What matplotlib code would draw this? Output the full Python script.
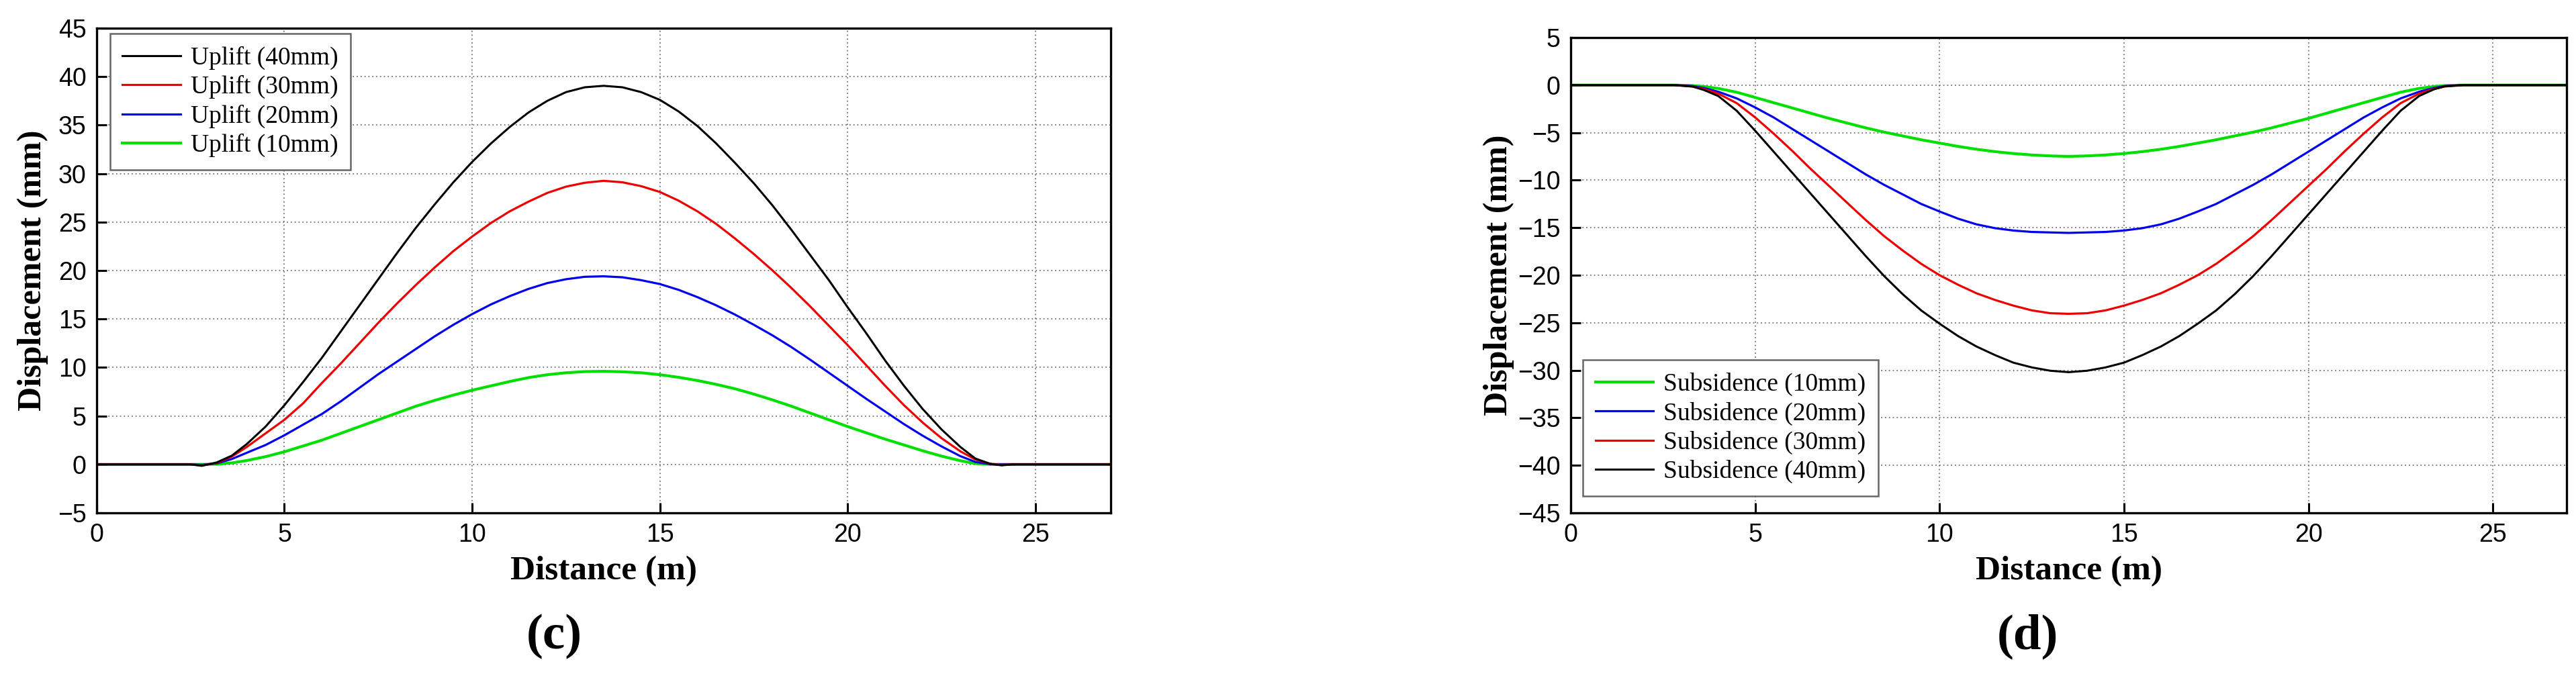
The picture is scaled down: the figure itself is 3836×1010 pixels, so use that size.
import matplotlib
matplotlib.use("Agg")
import matplotlib.pyplot as plt

# distance along the section (m)
x_uplift = [0, 2.5, 2.8, 3.2, 3.6, 4.0, 4.5, 5.0, 5.5, 6.0, 6.5, 7.0, 7.5, 8.0, 8.5, 9.0,
            9.5, 10.0, 10.5, 11.0, 11.5, 12.0, 12.5, 13.0, 13.5, 14.0,
            14.5, 15.0, 15.5, 16.0, 16.5, 17.0, 17.5, 18.0, 18.5, 19.0,
            19.5, 20.0, 20.5, 21.0, 21.5, 22.0, 22.5, 23.0,
            23.4, 23.8, 24.1, 24.4, 27.0]

# uplift displacement (mm)
uplift_40 = [0, 0, -0.15, 0.2, 0.9, 2.1, 3.9, 6.1, 8.5, 11.0, 13.7, 16.4, 19.1, 21.8, 24.4, 26.8,
             29.1, 31.2, 33.1, 34.8, 36.3, 37.5, 38.4, 38.9, 39.05, 38.9,
             38.4, 37.6, 36.4, 34.9, 33.1, 31.1, 29.0, 26.7, 24.2, 21.6,
             19.0, 16.2, 13.5, 10.7, 8.1, 5.7, 3.6, 1.8,
             0.6, 0.05, -0.1, 0, 0]
uplift_30 = [0, 0, -0.1, 0.15, 0.8, 1.8, 3.2, 4.6, 6.3, 8.4, 10.4, 12.5, 14.6, 16.6, 18.5, 20.3,
             22.0, 23.5, 24.9, 26.1, 27.1, 28.0, 28.65, 29.05, 29.25, 29.1,
             28.7, 28.1, 27.2, 26.1, 24.8, 23.3, 21.7, 20.0, 18.2, 16.3,
             14.3, 12.3, 10.2, 8.1, 6.1, 4.3, 2.7, 1.35,
             0.5, 0.05, -0.05, 0, 0]
uplift_20 = [0, 0, -0.05, 0.1, 0.55, 1.2, 2.0, 3.0, 4.1, 5.2, 6.5, 7.9, 9.3, 10.6, 11.9, 13.2,
             14.4, 15.5, 16.5, 17.35, 18.1, 18.7, 19.1, 19.35, 19.4, 19.3,
             19.0, 18.6, 18.0, 17.25, 16.4, 15.45, 14.4, 13.3, 12.1, 10.8,
             9.45, 8.1, 6.75, 5.45, 4.15, 2.95, 1.85, 0.85,
             0.25, 0.02, 0, 0, 0]
uplift_10 = [0, 0, 0, 0.02, 0.15, 0.4, 0.8, 1.3, 1.9, 2.5, 3.2, 3.9, 4.6, 5.3, 6.0, 6.6,
             7.15, 7.65, 8.1, 8.55, 8.95, 9.25, 9.45, 9.57, 9.6, 9.55,
             9.45, 9.25, 8.98, 8.65, 8.25, 7.8, 7.25, 6.65, 6.0, 5.3,
             4.6, 3.9, 3.25, 2.6, 2.0, 1.4, 0.85, 0.38,
             0.08, 0, 0, 0, 0]

x_subsidence = [0, 2.8, 3.3, 3.6, 4.0, 4.5, 5.0, 5.5, 6.0, 6.5, 7.0, 7.5, 8.0, 8.5, 9.0,
                9.5, 10.0, 10.5, 11.0, 11.5, 12.0, 12.5, 13.0, 13.5, 14.0,
                14.5, 15.0, 15.5, 16.0, 16.5, 17.0, 17.5, 18.0, 18.5, 19.0,
                19.5, 20.0, 20.5, 21.0, 21.5, 22.0, 22.5, 23.0,
                23.4, 23.7, 24.2, 27.0]

# subsidence displacement (mm)
subsidence_10 = [0, 0, -0.05, -0.15, -0.35, -0.75, -1.3, -1.85, -2.4, -2.95, -3.5, -4.0, -4.5, -4.95, -5.35,
                 -5.75, -6.1, -6.45, -6.75, -7.0, -7.2, -7.35, -7.45, -7.5, -7.45,
                 -7.35, -7.2, -7.0, -6.75, -6.45, -6.1, -5.75, -5.35, -4.95, -4.5,
                 -4.0, -3.5, -2.95, -2.4, -1.85, -1.3, -0.75, -0.35,
                 -0.15, -0.05, 0, 0]
subsidence_20 = [0, 0, -0.1, -0.3, -0.7, -1.4, -2.35, -3.4, -4.6, -5.8, -7.0, -8.2, -9.4, -10.5, -11.5,
                 -12.5, -13.3, -14.05, -14.65, -15.05, -15.3, -15.45, -15.5, -15.55, -15.5,
                 -15.45, -15.3, -15.05, -14.65, -14.05, -13.3, -12.5, -11.5, -10.5, -9.4,
                 -8.2, -7.0, -5.8, -4.6, -3.4, -2.35, -1.4, -0.7,
                 -0.3, -0.1, 0, 0]
subsidence_30 = [0, 0, -0.15, -0.4, -0.9, -1.9, -3.4, -5.1, -6.9, -8.8, -10.6, -12.4, -14.2, -15.9, -17.4,
                 -18.8, -20.0, -21.0, -21.9, -22.6, -23.2, -23.7, -24.0, -24.06, -24.0,
                 -23.7, -23.2, -22.6, -21.9, -21.0, -20.0, -18.8, -17.4, -15.9, -14.2,
                 -12.4, -10.6, -8.8, -6.9, -5.1, -3.4, -1.9, -0.9,
                 -0.4, -0.15, 0, 0]
subsidence_40 = [0, 0, -0.15, -0.5, -1.15, -2.7, -4.8, -7.0, -9.2, -11.4, -13.6, -15.8, -18.0, -20.1, -22.0,
                 -23.7, -25.1, -26.4, -27.5, -28.4, -29.2, -29.7, -30.05, -30.2, -30.05,
                 -29.7, -29.2, -28.4, -27.5, -26.4, -25.1, -23.7, -22.0, -20.1, -18.0,
                 -15.8, -13.6, -11.4, -9.2, -7.0, -4.8, -2.7, -1.15,
                 -0.45, -0.12, 0, 0]

uplift_labels = ["Uplift (40mm)", "Uplift (30mm)", "Uplift (20mm)", "Uplift (10mm)"]
subsidence_labels = ["Subsidence (10mm)", "Subsidence (20mm)", "Subsidence (30mm)", "Subsidence (40mm)"]
x_ticks = [0, 5, 10, 15, 20, 25]
uplift_ticks = [-5, 0, 5, 10, 15, 20, 25, 30, 35, 40, 45]
subsidence_ticks = [-45, -40, -35, -30, -25, -20, -15, -10, -5, 0, 5]

BLACK = "#000000"
RED = "#ee0000"
BLUE = "#0000ee"
GREEN = "#00e000"

plt.rcParams["font.family"] = "Liberation Sans"
serif = "Liberation Serif"

fig = plt.figure(figsize=(38.37, 10.10), dpi=100)


def style_axes(ax, yticks):
    ax.set_xlim(0, 27)
    ax.set_ylim(yticks[0], yticks[-1])
    ax.set_xticks(x_ticks)
    ax.set_yticks(yticks)
    ax.grid(True, linestyle=(0, (1, 2.2)), color="0.45", linewidth=1.3)
    ax.tick_params(direction="in", length=11, width=2.2, top=False, right=False,
                   labelsize=27, pad=11)
    for s in ax.spines.values():
        s.set_linewidth(2.4)
    ax.set_xlabel("Distance (m)", fontsize=37, fontweight="bold", family=serif, labelpad=9)


# (c) uplift
ax1 = fig.add_axes([0.0375, 0.2436, 0.3935, 0.7149])
l10, = ax1.plot(x_uplift, uplift_10, color=GREEN, lw=3.0)
l20, = ax1.plot(x_uplift, uplift_20, color=BLUE, lw=2.3)
l30, = ax1.plot(x_uplift, uplift_30, color=RED, lw=2.3)
l40, = ax1.plot(x_uplift, uplift_40, color=BLACK, lw=2.2)
style_axes(ax1, uplift_ticks)
ax1.set_ylabel("Displacement (mm)", fontsize=36, fontweight="bold", family=serif, labelpad=10)
leg1 = ax1.legend([l40, l30, l20, l10], uplift_labels, loc="upper left",
                  bbox_to_anchor=(0.013, 0.989), borderaxespad=0, fancybox=False,
                  framealpha=1, edgecolor="0.4", prop={"family": serif, "size": 27},
                  handlelength=2.3, handletextpad=0.4, labelspacing=0.22, borderpad=0.5)
leg1.get_frame().set_linewidth(1.8)

# (d) subsidence
ax2 = fig.add_axes([0.6096, 0.2436, 0.3865, 0.7010])
ax2.plot(x_subsidence, subsidence_10, color=GREEN, lw=3.0, label=subsidence_labels[0])
ax2.plot(x_subsidence, subsidence_20, color=BLUE, lw=2.3, label=subsidence_labels[1])
ax2.plot(x_subsidence, subsidence_30, color=RED, lw=2.3, label=subsidence_labels[2])
ax2.plot(x_subsidence, subsidence_40, color=BLACK, lw=2.2, label=subsidence_labels[3])
style_axes(ax2, subsidence_ticks)
ax2.set_ylabel("Displacement (mm)", fontsize=36, fontweight="bold", family=serif, labelpad=4)
leg2 = ax2.legend(loc="lower left", bbox_to_anchor=(0.012, 0.035), borderaxespad=0,
                  fancybox=False, framealpha=1, edgecolor="0.4",
                  prop={"family": serif, "size": 27},
                  handlelength=2.3, handletextpad=0.4, labelspacing=0.22, borderpad=0.5)
leg2.get_frame().set_linewidth(1.8)

# panel letters
fig.text(825 / 3837, 1 - 948 / 1010, "(c)", ha="center", va="center",
         fontsize=54, fontweight="bold", family=serif)
fig.text(3019 / 3837, 1 - 948 / 1010, "(d)", ha="center", va="center",
         fontsize=54, fontweight="bold", family=serif)

fig.savefig("out.png", dpi=100)
